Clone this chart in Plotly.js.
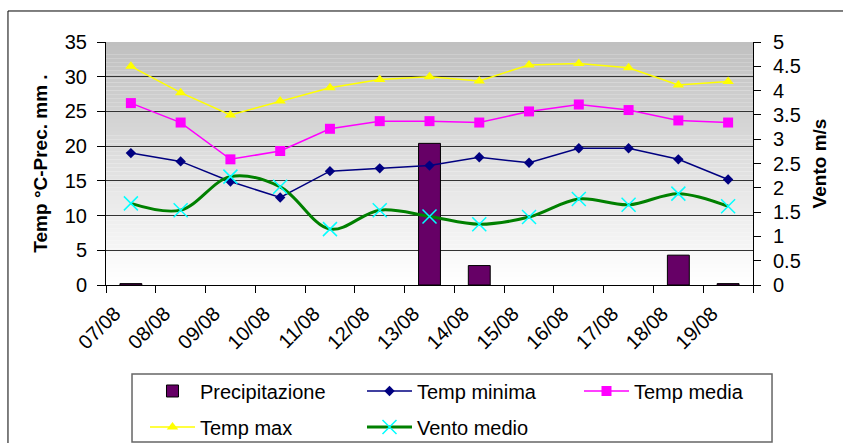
<!DOCTYPE html>
<html>
<head>
<meta charset="utf-8">
<script src="https://cdn.plot.ly/plotly-3.0.1.min.js"></script>
<style>html,body{margin:0;padding:0;background:#fff;}#chart{width:843px;height:443px;}</style>
</head>
<body>
<div id="chart"></div>
<script>
const categories = ['07/08','08/08','09/08','10/08','11/08','12/08','13/08','14/08','15/08','16/08','17/08','18/08','19/08'];
const precipitazione = [0.2, 0, 0, 0, 0, 0, 20.4, 2.8, 0, 0, 0, 4.3, 0.2];
const tempMinima = [19.0, 17.8, 14.9, 12.6, 16.4, 16.8, 17.2, 18.4, 17.6, 19.7, 19.7, 18.1, 15.2];
const tempMedia = [26.2, 23.4, 18.1, 19.3, 22.5, 23.6, 23.6, 23.4, 25.0, 26.0, 25.2, 23.7, 23.4];
const tempMax = [31.5, 27.7, 24.5, 26.5, 28.4, 29.6, 30.0, 29.4, 31.7, 31.9, 31.3, 28.8, 29.3];
const ventoMedio = [1.68, 1.54, 2.23, 2.02, 1.15, 1.54, 1.41, 1.25, 1.40, 1.77, 1.65, 1.88, 1.62];
const leftTicks = [0, 5, 10, 15, 20, 25, 30, 35];

const FONT = 'Liberation Sans, Arial, sans-serif';

const traces = [
  {type:'bar', name:'Precipitazione', x:categories, y:precipitazione.map(v => v === 0 ? null : v), width:0.44,
   marker:{color:'#660066', line:{color:'#000', width:1}}, legend:'legend'},
  {type:'scatter', mode:'lines+markers', name:'Temp minima', x:categories, y:tempMinima,
   line:{color:'#000080', width:1.5}, marker:{symbol:'diamond', size:8, color:'#000080'}, legend:'legend'},
  {type:'scatter', mode:'lines+markers', name:'Temp media', x:categories, y:tempMedia,
   line:{color:'#ff00ff', width:1.5}, marker:{symbol:'square', size:10, color:'#ff00ff'}, legend:'legend'},
  {type:'scatter', mode:'lines+markers', name:'Temp max', x:categories, y:tempMax,
   line:{color:'#ffff00', width:1.5}, marker:{symbol:'triangle-up', size:10, color:'#ffff00'}, legend:'legend2'},
  {type:'scatter', mode:'lines+markers', name:'Vento medio', x:categories, y:ventoMedio, yaxis:'y2',
   line:{color:'#008000', width:3, shape:'spline', smoothing:1},
   marker:{symbol:'x-thin', size:14, color:'#00ffff', line:{color:'#00ffff', width:1.5}}, legend:'legend2'}
];

// gradient background strips
const shapes = [];
const N = 60;
for (let i = 0; i < N; i++) {
  const t = i / (N - 1);
  const c = Math.round(255 - (255 - 192) * t);
  shapes.push({type:'rect', xref:'paper', yref:'paper', x0:0, x1:1, y0:i/N, y1:(i+1)/N,
    fillcolor:`rgb(${c},${c},${c})`, line:{width:0}, layer:'below'});
}
// outer chart border
shapes.push({type:'rect', xref:'paper', yref:'paper', x0:-0.1515, x1:1.3, y0:-1.0, y1:1.1276,
  line:{color:'#000', width:1}, fillcolor:'rgba(0,0,0,0)', layer:'below'});
// legend box
shapes.push({type:'rect', xref:'paper', yref:'paper', x0:0.0402, x1:1.0294, y0:-0.646, y1:-0.3663,
  line:{color:'#666', width:1.5}, fillcolor:'rgba(0,0,0,0)', layer:'above'});

const legendCommon = {orientation:'h', xref:'container', yref:'container', xanchor:'left', yanchor:'middle',
  bgcolor:'rgba(0,0,0,0)', borderwidth:0, font:{family:FONT, size:20, color:'#000'},
  entrywidth:157, entrywidthmode:'pixels', itemwidth:45, traceorder:'normal', valign:'middle'};

const layout = {
  width:843, height:443,
  margin:{l:106, r:90, t:42, b:158, autoexpand:false},
  paper_bgcolor:'#fff', plot_bgcolor:'rgba(0,0,0,0)',
  font:{family:FONT, size:20, color:'#000'},
  showlegend:true,
  legend:Object.assign({}, legendCommon, {x:0.172, y:0.1174}),
  legend2:Object.assign({}, legendCommon, {x:0.172, y:0.0361}),
  xaxis:{type:'category', range:[-0.5, 12.5], tickson:'boundaries', ticks:'outside', ticklen:7,
    tickcolor:'#000', tickangle:-45, showline:true, linecolor:'#000', linewidth:1,
    showgrid:false, ticklabelshift:-16, ticklabelstandoff:8, tickfont:{family:FONT, size:20}},
  yaxis:{range:[0,35], tickvals:leftTicks, ticks:'outside', ticklen:8, tickcolor:'#000',
    showline:true, linecolor:'#000', linewidth:1, showgrid:true, gridcolor:'#333', gridwidth:1,
    zeroline:false, ticklabelstandoff:6, tickfont:{family:FONT, size:20},
    title:{text:'<b>Temp °C-Prec. mm .</b>', font:{family:FONT, size:19}, standoff:12}},
  yaxis2:{overlaying:'y', side:'right', range:[0,5], dtick:0.5, ticks:'outside', ticklen:7,
    tickcolor:'#000', showline:true, linecolor:'#000', linewidth:1, showgrid:false, zeroline:false,
    ticklabelstandoff:8, tickfont:{family:FONT, size:20},
    title:{text:'<b>Vento m/s</b>', font:{family:FONT, size:19}, standoff:12}},
  shapes:shapes
};

Plotly.newPlot('chart', traces, layout, {displayModeBar:false, staticPlot:true});
</script>
</body>
</html>
